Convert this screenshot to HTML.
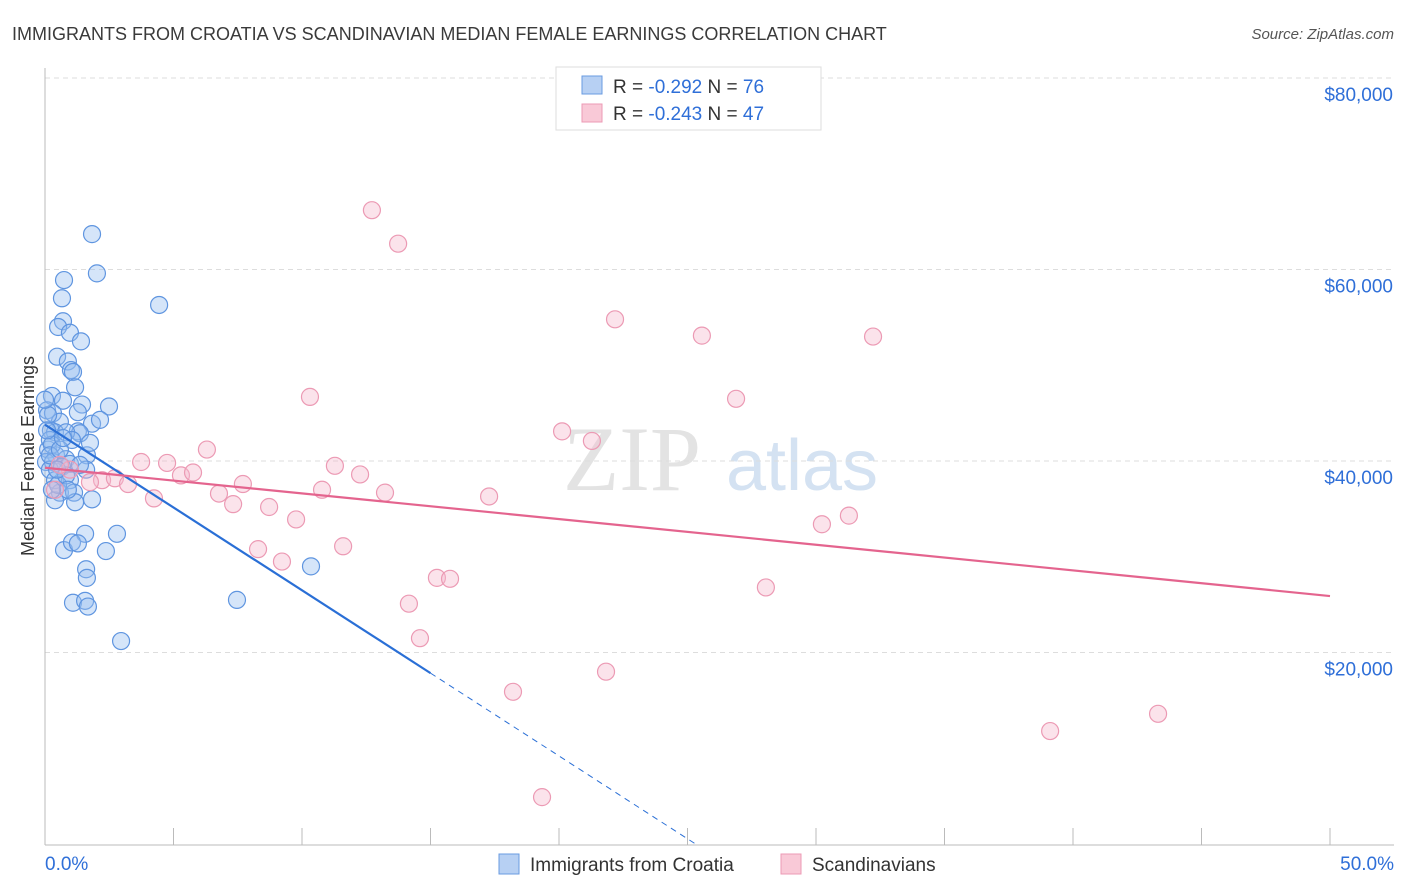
<!DOCTYPE html>
<html><head><meta charset="utf-8"><style>
body{margin:0;background:#fff;font-family:"Liberation Sans",sans-serif}
svg{display:block}
</style></head><body>
<svg id="c" width="1406" height="892">
<text x="12" y="40" font-size="18" fill="#3a3a3a">IMMIGRANTS FROM CROATIA VS SCANDINAVIAN MEDIAN FEMALE EARNINGS CORRELATION CHART</text>
<text x="1394" y="39" font-size="15" fill="#555" font-style="italic" text-anchor="end">Source: ZipAtlas.com</text>
<text x="-456" y="34" transform="rotate(-90)" font-size="18" fill="#333" text-anchor="middle">Median Female Earnings</text>
<g><text x="632" y="490" font-size="92" fill="#e3e3e3" text-anchor="middle" font-family="Liberation Serif,serif">ZIP</text><text x="802" y="490" font-size="72" fill="#d4e2f2" text-anchor="middle">atlas</text></g>
<g id="grid"></g><g id="axes"></g><g id="pts"></g><g id="lines"></g>
<g>
<rect x="556" y="67" width="265" height="63" fill="#fff" stroke="#ddd"/>
<rect x="582" y="76" width="20" height="18" fill="#b7d0f3" stroke="#6a9be0"/>
<rect x="582" y="104" width="20" height="18" fill="#f9c9d7" stroke="#ec9ab4"/>
<text x="613" y="93" font-size="19" fill="#333">R = <tspan fill="#2f6fd8">-0.292</tspan>   N = <tspan fill="#2f6fd8">76</tspan></text>
<text x="613" y="120" font-size="19" fill="#333">R = <tspan fill="#2f6fd8">-0.243</tspan>   N = <tspan fill="#2f6fd8">47</tspan></text>
</g>
<g>
<rect x="499" y="854" width="20" height="20" fill="#b7d0f3" stroke="#6a9be0"/>
<text x="530" y="871" font-size="19" fill="#333">Immigrants from Croatia</text>
<rect x="781" y="854" width="20" height="20" fill="#f9c9d7" stroke="#ec9ab4"/>
<text x="812" y="871" font-size="19" fill="#333">Scandinavians</text>
</g>
</svg>
<script>
const blueX=[1.83,2.02,0.74,0.66,4.44,0.70,0.51,0.97,1.40,0.47,0.89,1.01,1.09,1.17,0.27,0.70,1.44,2.49,0.08,0.31,1.28,0.58,1.83,0.23,0.39,1.28,1.36,0.82,0.12,0.43,1.63,0.82,0.04,0.31,0.97,1.60,0.19,0.66,0.39,0.97,0.58,1.13,1.83,0.39,1.17,1.56,2.80,0.74,1.05,1.28,2.37,1.60,1.63,1.09,1.56,1.67,2.96,7.47,10.35,0.19,0.12,0.27,0.51,0.82,0.19,2.14,0.47,0.0,0.08,1.05,0.58,0.89,1.36,0.27,1.75,0.70];
const blueY=[63800,59700,59000,57100,56400,54700,54100,53500,52600,51000,50500,49600,49400,47800,46900,46400,46000,45800,45400,45100,45200,44200,44000,43300,43100,43200,43000,43100,41300,40700,40700,40300,40000,40000,39800,39200,39200,39500,38100,38100,36800,36800,36100,36000,35800,32500,32500,30800,31600,31500,30700,28800,27900,25300,25500,24900,21300,25600,29100,42300,44900,41800,37600,38600,40700,44400,39200,46500,43300,42300,41300,37100,39700,37100,42000,42500];
const pinkX=[12.72,13.74,22.18,25.56,32.22,10.31,26.89,20.12,21.28,6.30,3.74,4.75,11.28,12.26,5.29,5.76,2.22,2.72,1.75,3.23,7.70,10.78,13.23,17.28,6.77,4.24,7.32,8.72,9.77,31.28,30.23,11.60,8.29,9.22,15.25,15.76,28.05,14.16,14.59,18.21,21.83,39.11,43.31,19.34,0.97,0.58,0.39];
const pinkY=[66300,62800,54900,53200,53100,46800,46600,43200,42200,41300,40000,39900,39600,38700,38600,38900,38100,38300,37900,37700,37700,37100,36800,36400,36700,36200,35600,35300,34000,34400,33500,31200,30900,29600,27900,27800,26900,25200,21600,16000,18100,11900,13700,5000,39200,39700,37100];
const yTicks=[20000,40000,60000,80000];
const yTickLabels=["$20,000","$40,000","$60,000","$80,000"];
const xTickLabels=["0.0%","50.0%"];
const blueTrend=[43900,-1730]; // intercept, slope per %
const pinkTrend=[39400,-268];
const X=v=>45+v/50*1285, Y=v=>845-v/20000*191.5;
const NS="http://www.w3.org/2000/svg";
function mk(p,t,a){const e=document.createElementNS(NS,t);for(const k in a)e.setAttribute(k,a[k]);p.appendChild(e);return e;}
const grid=document.getElementById('grid'),axes=document.getElementById('axes'),pts=document.getElementById('pts'),lines=document.getElementById('lines');
yTicks.forEach((v,i)=>{
 const l=mk(grid,'line',{x1:45,x2:1394,y1:Y(v)-1,y2:Y(v)-1,stroke:'#ddd','stroke-dasharray':'5,4'});
 
 
 const t=mk(grid,'text',{x:1393,y:Y(v)+22,'font-size':19,fill:'#2f6fd8','text-anchor':'end'});t.textContent=yTickLabels[i];
 
 
});
const ax=mk(axes,'line',{x1:45,x2:45,y1:68,y2:845,stroke:'#bbb'});


const bx=mk(axes,'line',{x1:45,x2:1394,y1:845,y2:845,stroke:'#bbb'});


for(let i=0;i<=10;i++){const tk=mk(axes,'line',{x1:X(i*5),x2:X(i*5),y1:828,y2:845,stroke:'#bbb'});
 
 }
[[0,'start',45],[50,'end',1394]].forEach((d,i)=>{const t=mk(axes,'text',{x:d[2],y:870,'font-size':19,fill:'#2f6fd8','text-anchor':d[1]});t.textContent=xTickLabels[i];
 
 });
blueX.forEach((x,i)=>{const c=mk(pts,'circle',{cx:X(x),cy:Y(blueY[i]),r:8.5,fill:'rgba(150,190,240,0.4)',stroke:'#5f95e0','stroke-width':1.2});
 
 });
pinkX.forEach((x,i)=>{const c=mk(pts,'circle',{cx:X(x),cy:Y(pinkY[i]),r:8.5,fill:'rgba(246,185,205,0.4)',stroke:'#ec9ab4','stroke-width':1.2});
 
 });
const bEnd=15, bZero=-blueTrend[0]/blueTrend[1];
const bl=mk(lines,'line',{x1:X(0),y1:Y(blueTrend[0]),x2:X(bEnd),y2:Y(blueTrend[0]+blueTrend[1]*bEnd),stroke:'#2a6fd6','stroke-width':2.2});


const bd=mk(lines,'line',{x1:X(bEnd),y1:Y(blueTrend[0]+blueTrend[1]*bEnd),x2:X(bZero),y2:Y(0),stroke:'#2a6fd6','stroke-width':1,'stroke-dasharray':'6,5'});


const pl=mk(lines,'line',{x1:X(0),y1:Y(pinkTrend[0]),x2:X(50),y2:Y(pinkTrend[0]+pinkTrend[1]*50),stroke:'#e4648e','stroke-width':2.2});


</script>
</body></html>
